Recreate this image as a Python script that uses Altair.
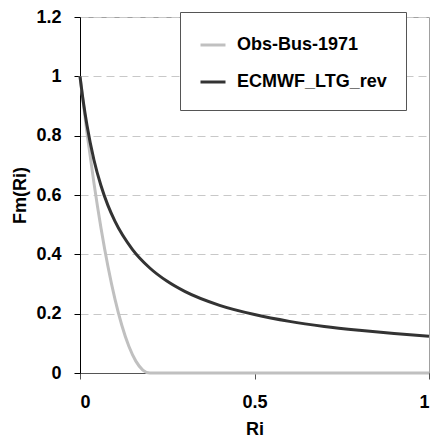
import altair as alt
import pandas as pd

# ECMWF_LTG_rev curve
ri_ecmwf = [0, 0.01, 0.02, 0.04, 0.06, 0.08, 0.1, 0.15, 0.2, 0.25, 0.3, 0.4, 0.5, 0.6, 0.7, 0.8, 0.9, 1.0]
fm_ecmwf = [1.0, 0.91, 0.835, 0.718, 0.632, 0.565, 0.512, 0.417, 0.354, 0.309, 0.275, 0.228, 0.197, 0.174, 0.157, 0.144, 0.133, 0.124]

# Obs-Bus-1971 curve
ri_obs = [0, 0.02, 0.04, 0.06, 0.08, 0.1, 0.12, 0.14, 0.16, 0.18, 0.2, 0.4, 0.6, 0.8, 1.0]
fm_obs = [1.0, 0.81, 0.64, 0.49, 0.36, 0.25, 0.16, 0.09, 0.04, 0.01, 0.0, 0.0, 0.0, 0.0, 0.0]

series_names = ["Obs-Bus-1971", "ECMWF_LTG_rev"]
series_colors = ["#c0c0c0", "#333333"]

x_ticks = [0, 0.5, 1]
y_ticks = [0, 0.2, 0.4, 0.6, 0.8, 1.0, 1.2]

rows = []
for i, (r, f) in enumerate(zip(ri_obs, fm_obs)):
    rows.append({"Ri": r, "Fm": f, "series": series_names[0], "order": i})
for i, (r, f) in enumerate(zip(ri_ecmwf, fm_ecmwf)):
    rows.append({"Ri": r, "Fm": f, "series": series_names[1], "order": i})
df = pd.DataFrame(rows)

FONT = "Liberation Sans"

chart = alt.Chart(df).mark_line(strokeWidth=3, interpolate="monotone").encode(
    x=alt.X("Ri:Q", title="Ri",
            scale=alt.Scale(domain=[0, 1], nice=False, zero=False),
            axis=alt.Axis(values=x_ticks, format="~g", grid=False,
                          domainColor="#555555", tickColor="#555555",
                          tickSize=6, labelPadding=14, titlePadding=9)),
    y=alt.Y("Fm:Q", title="Fm(Ri)",
            scale=alt.Scale(domain=[0, 1.2], nice=False),
            axis=alt.Axis(values=y_ticks, format="~g", grid=True,
                          gridColor="#c8c8c8", gridDash=[8, 5],
                          domainColor="#000000", tickColor="#000000",
                          tickSize=6, labelPadding=13, titlePadding=6)),
    color=alt.Color("series:N",
                    scale=alt.Scale(domain=series_names, range=series_colors),
                    legend=alt.Legend(title=None, orient="none",
                                      legendX=100, legendY=-5)),
    order=alt.Order("order:Q"),
    detail="series:N",
).properties(
    width=427, height=430,
    autosize=alt.AutoSizeParams(type="fit", contains="padding"),
    padding={"left": 3, "top": 0, "right": 0, "bottom": 0},
).configure_view(
    stroke="#a0a0a0", strokeWidth=1,
).configure_axis(
    labelFont=FONT, labelFontSize=18, labelFontWeight="bold", labelColor="#000000",
    titleFont=FONT, titleFontSize=18, titleFontWeight="bold", titleColor="#000000",
).configure_legend(
    labelFont=FONT, labelFontSize=18, labelFontWeight="bold", labelColor="#000000",
    symbolType="stroke", symbolStrokeWidth=3, symbolSize=625,
    labelOffset=10, rowPadding=14, padding=19,
    strokeColor="#555555", fillColor="#ffffff",
)

chart.save("out.html", embed_options={"renderer": "svg", "actions": False})
